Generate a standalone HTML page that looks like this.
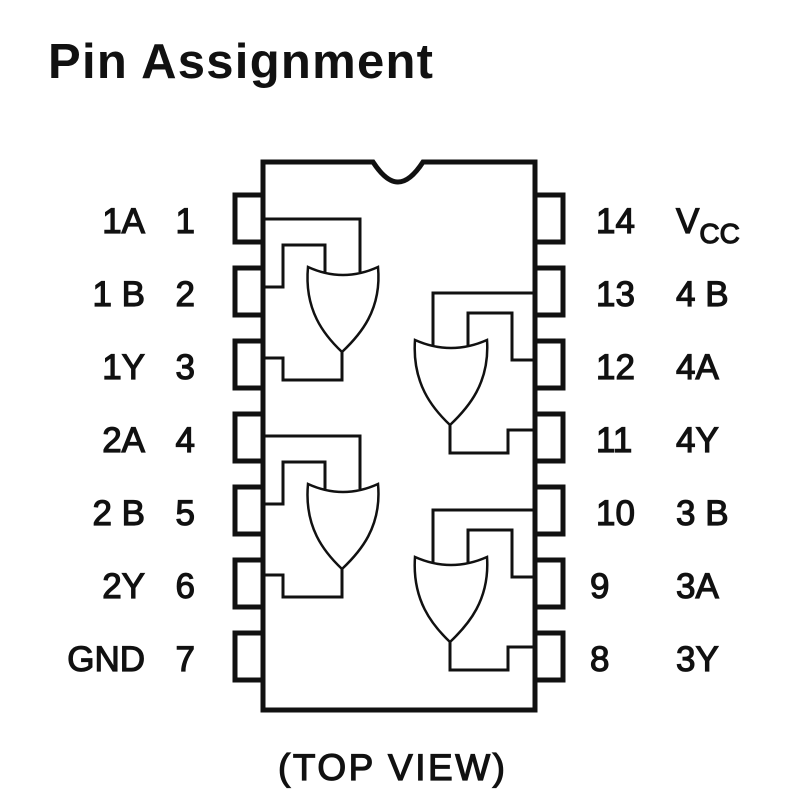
<!DOCTYPE html>
<html><head><meta charset="utf-8"><style>html,body{margin:0;padding:0;background:#fff}svg{display:block}</style></head>
<body>
<svg width="800" height="800" viewBox="0 0 800 800" xmlns="http://www.w3.org/2000/svg">
<rect width="800" height="800" fill="#fff"/>
<text x="48" y="78" font-family="Liberation Sans, sans-serif" font-weight="bold" font-size="49" textLength="385" fill="#111">Pin Assignment</text>
<g fill="none" stroke="#111" stroke-linejoin="miter">
<path d="M263,162 H373 Q386,182 398,182 Q410,182 423,162 H535 V710 H263 Z" stroke-width="5"/>
<g stroke-width="5">
<rect x="235" y="195" width="28" height="47"/><rect x="235" y="268" width="28" height="47"/><rect x="235" y="341" width="28" height="47"/><rect x="235" y="414" width="28" height="47"/><rect x="235" y="487" width="28" height="47"/><rect x="235" y="560" width="28" height="47"/><rect x="235" y="633" width="28" height="47"/>
<rect x="535" y="195" width="28" height="47"/><rect x="535" y="268" width="28" height="47"/><rect x="535" y="341" width="28" height="47"/><rect x="535" y="414" width="28" height="47"/><rect x="535" y="487" width="28" height="47"/><rect x="535" y="560" width="28" height="47"/><rect x="535" y="633" width="28" height="47"/>
</g>
<g id="g1" stroke-width="3">
<path d="M263,219 H360 V272"/>
<path d="M263,287 H283 V245 H325 V272"/>
<path d="M342,352 V380 H283 V358 H263"/>
<path d="M308,267 Q343,283 378,267 C382,310 360,335 342,352 C324,335 304,310 308,267 Z" stroke-width="2.5"/>
</g>
<g id="g2" stroke-width="3">
<path d="M535,293 H433 V346"/>
<path d="M535,360 H512 V313 H468 V346"/>
<path d="M450,425 V453 H508 V430 H535"/>
<path d="M415,340 Q451,356 487,340 C490,383 468,408 450,425 C432,408 412,383 415,340 Z" stroke-width="2.5"/>
</g>
<use href="#g1" transform="translate(0,217)"/>
<use href="#g2" transform="translate(0,217)"/>
</g>
<g font-family="Liberation Sans, sans-serif" font-size="35" fill="#111" stroke="#111" stroke-width="1.2">
<g text-anchor="end">
<text x="145" y="233">1A</text><text x="145" y="306">1 B</text><text x="145" y="379">1Y</text><text x="145" y="452">2A</text><text x="145" y="525">2 B</text><text x="145" y="598">2Y</text><text x="145" y="671">GND</text>
<text x="195" y="233">1</text><text x="195" y="306">2</text><text x="195" y="379">3</text><text x="195" y="452">4</text><text x="195" y="525">5</text><text x="195" y="598">6</text><text x="195" y="671">7</text>
</g>
<text x="596" y="233">14</text><text x="596" y="306">13</text><text x="596" y="379">12</text><text x="596" y="452">11</text><text x="596" y="525">10</text><text x="590" y="598">9</text><text x="590" y="671">8</text>
<text x="676" y="233">V<tspan font-size="28" dy="10">CC</tspan></text>
<text x="676" y="306">4 B</text><text x="676" y="379">4A</text><text x="676" y="452">4Y</text><text x="676" y="525">3 B</text><text x="676" y="598">3A</text><text x="676" y="671">3Y</text>
<text x="278" y="780" textLength="227" font-size="37">(TOP  VIEW)</text>
</g>
</svg>
</body></html>
